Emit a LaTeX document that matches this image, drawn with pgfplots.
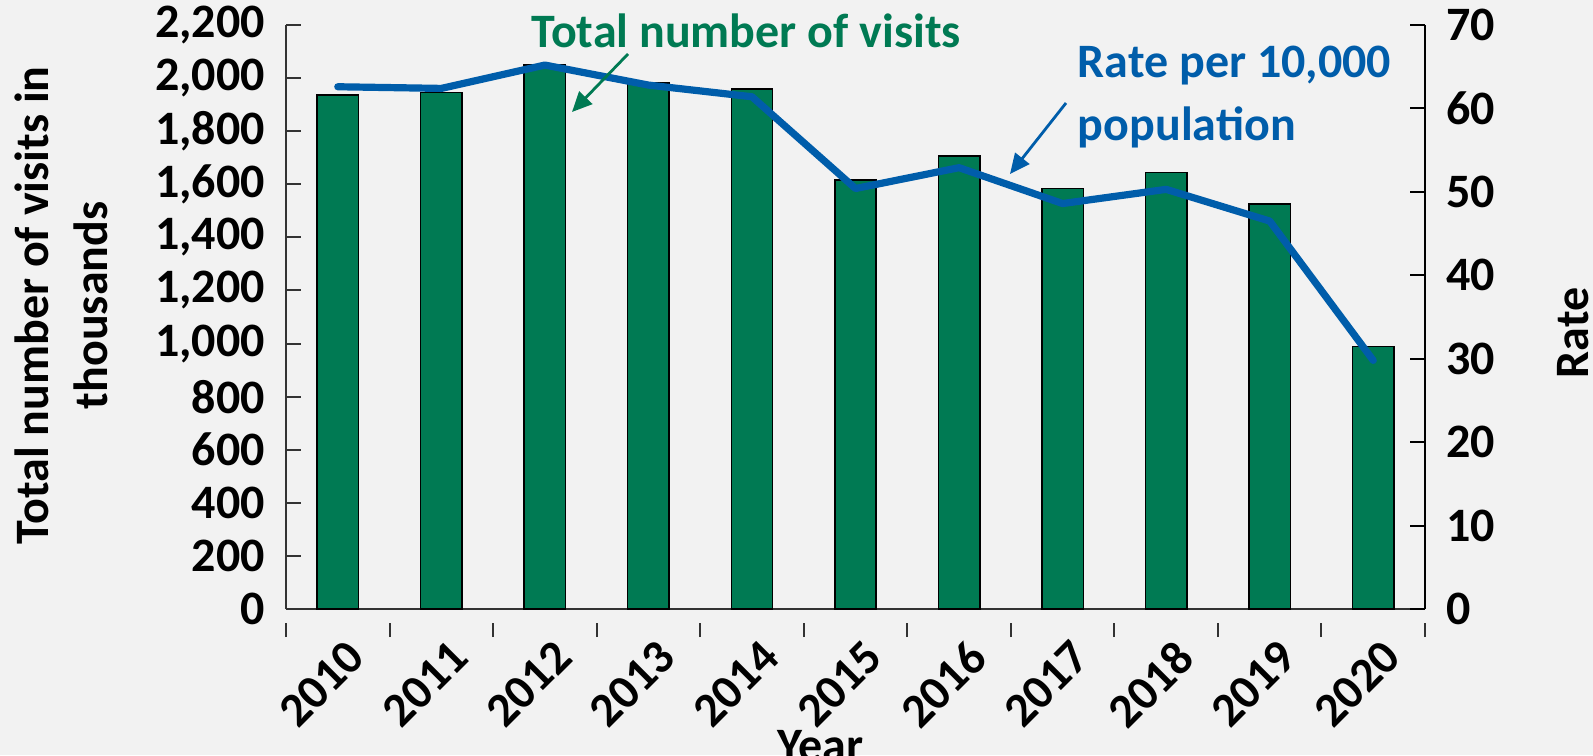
\documentclass[border=0pt]{standalone}
\usepackage{fontspec}
\setmainfont{Carlito}
\usepackage{pgfplots}
\pgfplotsset{compat=1.18}
\usetikzlibrary{arrows.meta}
\definecolor{bargreen}{HTML}{007A53}
\definecolor{lineblue}{HTML}{005DAA}
\definecolor{bg}{HTML}{F2F2F2}
\newcommand{\bigbf}{\fontsize{24}{29.5}\selectfont\bfseries}
\begin{document}
\begin{tikzpicture}
\fill[bg] (0,0) rectangle (796.5pt,377.5pt);
\begin{axis}[
  at={(143pt,73pt)}, anchor=south west,
  scale only axis, width=569.5pt, height=292pt,
  xmin=-0.5, xmax=10.5, ymin=0, ymax=2200,
  axis x line=bottom, axis y line=left,
  axis line style={-, line width=1pt, black!80},
  tick align=inside,
  xtick={0,...,10},
  xticklabels={2010,2011,2012,2013,2014,2015,2016,2017,2018,2019,2020},
  major x tick style={draw=none},
  minor xtick={-0.5,0.5,...,10.5},
  minor x tick style={yshift=-7pt, line width=1pt, black!80},
  minor tick length=7pt,
  ytick={0,200,...,2200},
  major tick length=7.5pt,
  y tick style={line width=1pt, black!80},
  scaled y ticks=false,
  /pgf/number format/.cd, 1000 sep={,}, assume math mode=true, /pgfplots/.cd,
  tick label style={font=\bigbf},
  yticklabel style={xshift=-7pt},
  xticklabel style={rotate=45, anchor=north east, yshift=-4pt, xshift=1pt},
  label style={font=\bigbf},
  xlabel={Year},
  xlabel style={at={(axis description cs:0.469,-0.195)}, anchor=north},
  ylabel={Total number of visits in\\thousands},
  ylabel style={at={(axis description cs:-0.197,0.52)}, anchor=center, align=center},
  ybar, bar width=0.4,
]
\addplot[bar shift=0pt, fill=bargreen, draw=black, line width=0.75pt] coordinates {
(0,1937) (1,1945) (2,2050) (3,1981) (4,1959) (5,1616) (6,1706) (7,1585) (8,1644) (9,1526) (10,988)};
\end{axis}
\begin{axis}[
  at={(143pt,73pt)}, anchor=south west,
  scale only axis, width=569.5pt, height=292pt,
  xmin=-0.5, xmax=10.5, ymin=0, ymax=70,
  axis x line=none, axis y line*=right,
  axis line style={-, line width=1pt, black},
  tick align=inside,
  ytick={0,10,...,70},
  major tick length=7.5pt,
  y tick style={line width=1pt, black},
  /pgf/number format/.cd, assume math mode=true, /pgfplots/.cd,
  tick label style={font=\bigbf},
  yticklabel style={xshift=7pt},
  label style={font=\bigbf},
  ylabel={Rate},
  ylabel style={at={(axis description cs:1.13,0.4726)}, anchor=center},
  clip=false,
]
\addplot[lineblue, line width=3.6pt, line cap=round, line join=round] coordinates {
(0,62.6) (1,62.4) (2,65.2) (3,62.8) (4,61.4) (5,50.4) (6,52.9) (7,48.6) (8,50.3) (9,46.5) (10,29.8)};
\end{axis}
\node[anchor=base west, inner sep=0pt, text=bargreen, font=\bigbf] at (265.5pt,353.6pt) {Total number of visits};
\node[anchor=base west, inner sep=0pt, text=lineblue, font=\bigbf] at (538.75pt,338.75pt) {Rate per 10,000};
\node[anchor=base west, inner sep=0pt, text=lineblue, font=\bigbf] at (538.75pt,307.15pt) {population};
\draw[bargreen, line width=1.4pt, -{Triangle[length=10pt,width=9pt]}] (314pt,350.5pt) -- (286pt,321.5pt);
\draw[lineblue, line width=1.4pt, -{Triangle[length=10pt,width=9pt]}] (533pt,326pt) -- (505pt,290.5pt);
\pgfresetboundingbox
\path (0,0) rectangle (796.5pt,377.5pt);
\end{tikzpicture}
\end{document}
